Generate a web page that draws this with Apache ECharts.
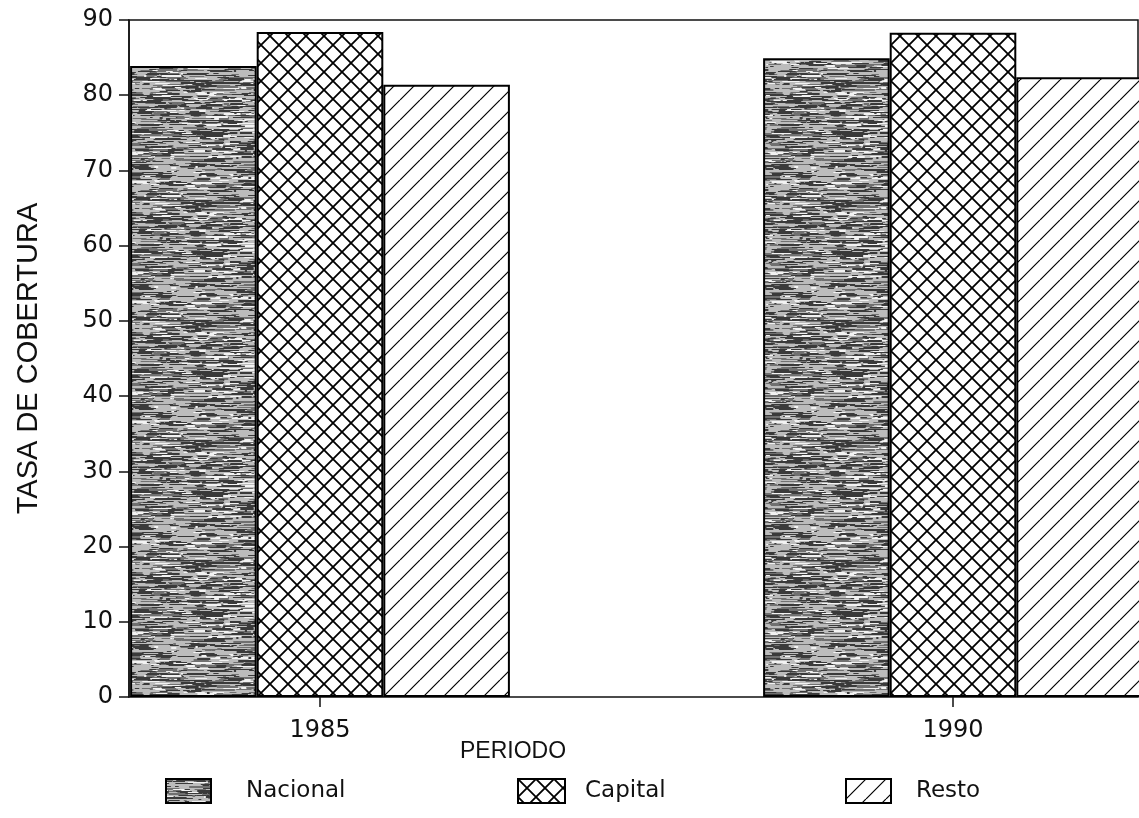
<!DOCTYPE html>
<html><head><meta charset="utf-8">
<script src="https://cdn.jsdelivr.net/npm/echarts@6/dist/echarts.min.js"></script>
<style>html,body{margin:0;padding:0;background:#fff}#c{width:1139px;height:818px}</style>
</head><body><div id="c"></div>
<script>
// ---- data ----
const categories = ['1985', '1990'];
const seriesNames = ['Nacional', 'Capital', 'Resto'];
const nacional = [83.9, 84.9];
const capital = [88.4, 88.3];
const resto = [81.4, 82.4];
const yMin = 0, yMax = 90, yStep = 10;

// ---- texture patterns (decoration only) ----
function crossPattern() {
  const s = 18, c = document.createElement('canvas'); c.width = s; c.height = s;
  const g = c.getContext('2d'); g.fillStyle = '#fff'; g.fillRect(0, 0, s, s);
  g.strokeStyle = '#000'; g.lineWidth = 1.8; g.beginPath();
  for (const o of [-s, 0, s]) { g.moveTo(o, 0); g.lineTo(o + s, s); g.moveTo(o, s); g.lineTo(o + s, 0); }
  g.stroke(); return c;
}
function slashPattern() {
  const s = 20, c = document.createElement('canvas'); c.width = s; c.height = s;
  const g = c.getContext('2d'); g.fillStyle = '#fff'; g.fillRect(0, 0, s, s);
  g.strokeStyle = '#000'; g.lineWidth = 1.2; g.beginPath();
  for (const o of [-s, 0, s]) { g.moveTo(o, s); g.lineTo(o + s, 0); }
  g.stroke(); return c;
}
function grainPattern() {
  const w = 160, h = 120, c = document.createElement('canvas'); c.width = w; c.height = h;
  const g = c.getContext('2d'); g.fillStyle = '#bcbcbc'; g.fillRect(0, 0, w, h);
  let seed = 12345; const rnd = () => { seed = (seed * 1103515245 + 12345) % 2147483648; return seed / 2147483648; };
  for (let i = 0; i < 1200; i++) {
    const x = rnd() * w, y = Math.floor(rnd() * h), len = 2 + rnd() * 20, t = rnd();
    const hh = rnd() < 0.75 ? 1 : 2;
    g.fillStyle = t < 0.5 ? '#3a3a3a' : (t < 0.82 ? '#707070' : '#f2f2f2');
    g.fillRect(x, y, len, hh);
    if (x + len > w) g.fillRect(x - w, y, len, hh);
  }
  return c;
}
const fills = [
  { image: grainPattern(), repeat: 'repeat' },
  { image: crossPattern(), repeat: 'repeat' },
  { image: slashPattern(), repeat: 'repeat' }
];
const values = [nacional, capital, resto];

const txt = '#111';
const fontNum = 'DejaVu Sans';

const chart = echarts.init(document.getElementById('c'), null, { renderer: 'canvas' });
chart.setOption({
  animation: false,
  backgroundColor: '#fff',
  title: {
    text: 'PERIODO', left: 455, top: 735,
    textStyle: { fontFamily: 'Liberation Sans', fontSize: 23, fontWeight: 'normal', color: txt }
  },
  legend: [
    { data: [seriesNames[0]], left: 165, top: 778, padding: 0, itemWidth: 45, itemHeight: 24, icon: 'rect',
      textStyle: { fontFamily: fontNum, fontSize: 23, color: txt, padding: [0, 0, 0, 30] } },
    { data: [seriesNames[1]], left: 517, top: 778, padding: 0, itemWidth: 47, itemHeight: 24, icon: 'rect',
      textStyle: { fontFamily: fontNum, fontSize: 23, color: txt, padding: [0, 0, 0, 15] } },
    { data: [seriesNames[2]], left: 845, top: 778, padding: 0, itemWidth: 45, itemHeight: 24, icon: 'rect',
      textStyle: { fontFamily: fontNum, fontSize: 23, color: txt, padding: [0, 0, 0, 20] } }
  ],
  grid: [
    { left: 129, right: 1, top: 20, bottom: 121, show: true, borderColor: '#111', borderWidth: 1.5, backgroundColor: 'transparent' },
    { left: 320, right: 186, top: 20, bottom: 121 }
  ],
  xAxis: [
    { gridIndex: 0, type: 'value', min: 0, max: 1, show: false },
    { gridIndex: 1, type: 'category', data: categories, boundaryGap: false,
      axisLine: { show: false },
      axisTick: { show: true, length: 10, lineStyle: { color: '#111', width: 1.5 } },
      axisLabel: { fontFamily: fontNum, fontSize: 24, color: txt, margin: 22 } }
  ],
  yAxis: [
    { gridIndex: 0, type: 'value', min: yMin, max: yMax, interval: yStep,
      name: 'TASA DE COBERTURA', nameLocation: 'middle', nameGap: 86, nameRotate: 90,
      nameTextStyle: { fontFamily: 'Liberation Sans', fontSize: 29, color: txt },
      axisLine: { show: true, lineStyle: { color: '#111', width: 1.5 } },
      axisTick: { show: true, length: 10, lineStyle: { color: '#111', width: 1.5 } },
      axisLabel: { fontFamily: fontNum, fontSize: 24, color: txt, margin: 16 },
      splitLine: { show: false } },
    { gridIndex: 1, type: 'value', min: yMin, max: yMax, show: false, splitLine: { show: false } }
  ],
  series: seriesNames.map((n, i) => ({
    name: n, type: 'bar', xAxisIndex: 1, yAxisIndex: 1, data: values[i], clip: false,
    barGap: '0%', barCategoryGap: '40%',
    itemStyle: { color: fills[i], borderColor: '#000', borderWidth: 2 }
  }))
});
</script></body></html>
